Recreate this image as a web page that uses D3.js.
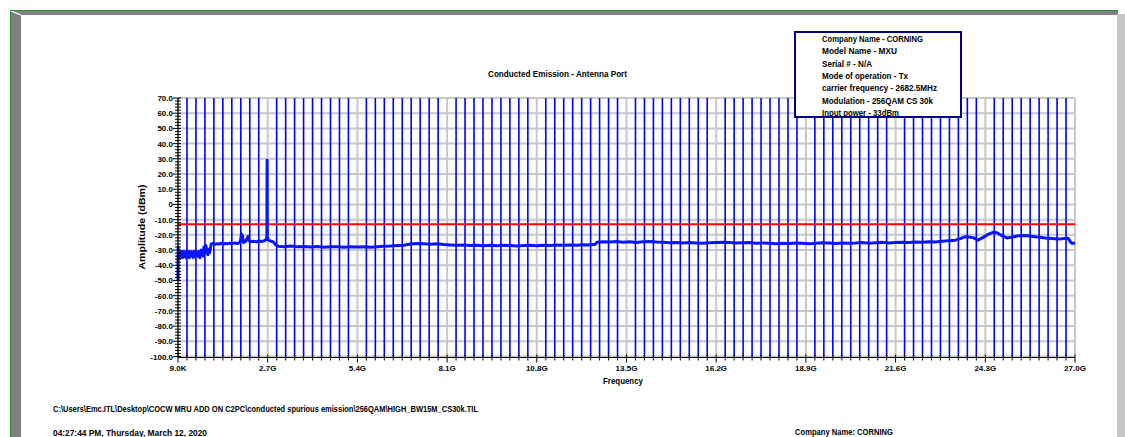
<!DOCTYPE html>
<html>
<head>
<meta charset="utf-8">
<script src="https://cdn.jsdelivr.net/npm/d3@7"></script>
<style>
  html, body { margin: 0; padding: 0; background: #ffffff; }
  svg { display: block; }
  text { font-family: "Liberation Sans", Arial, sans-serif; fill: #000; }
</style>
</head>
<body>
<svg id="chart" width="1125" height="437"></svg>
<script>
// ---- Data ----
const chartTitle = "Conducted Emission - Antenna Port";
const xTickValues = [0, 2.7, 5.4, 8.1, 10.8, 13.5, 16.2, 18.9, 21.6, 24.3, 27.0];   // GHz
const xTickLabels = ["9.0K", "2.7G", "5.4G", "8.1G", "10.8G", "13.5G", "16.2G", "18.9G", "21.6G", "24.3G", "27.0G"];
const yTickValues = [70, 60, 50, 40, 30, 20, 10, 0, -10, -20, -30, -40, -50, -60, -70, -80, -90, -100];
const yTickLabels = ["70.0", "60.0", "50.0", "40.0", "30.0", "20.0", "10.0", "0", "-10.0", "-20.0", "-30.0", "-40.0", "-50.0", "-60.0", "-70.0", "-80.0", "-90.0", "-100.0"];
const limitDbm = -13;
const infoLines = [
  "Company Name - CORNING",
  "Model Name - MXU",
  "Serial # - N/A",
  "Mode of operation - Tx",
  "carrier frequency - 2682.5MHz",
  "Modulation - 256QAM CS 30k",
  "Input power - 33dBm"
];
const filePath = "C:\\Users\\Emc.ITL\\Desktop\\COCW MRU ADD ON C2PC\\conducted spurious emission\\256QAM\\HIGH_BW15M_CS30k.TIL";
const timeStamp = "04:27:44 PM, Thursday, March 12, 2020";
const companyFooter = "Company Name: CORNING";

// measured trace: frequency (GHz) and level (dBm)
const traceFreqGHz = [
  0.000009, 0.005, 0.02, 0.04, 0.06, 0.08, 0.10, 0.12, 0.14, 0.16, 0.18, 0.20, 0.22, 0.24, 0.26, 0.28,
  0.30, 0.32, 0.34, 0.36, 0.38, 0.40, 0.42, 0.44, 0.46, 0.48, 0.50, 0.52, 0.54, 0.56, 0.58, 0.60,
  0.62, 0.64, 0.66, 0.68, 0.70, 0.72, 0.74, 0.76, 0.78, 0.80, 0.82, 0.84, 0.86, 0.88, 0.90, 0.92,
  0.94, 0.96, 1.00, 1.06, 1.12, 1.18, 1.24, 1.30, 1.36, 1.42, 1.48, 1.54, 1.60, 1.66, 1.72, 1.78,
  1.84, 1.88, 1.91, 1.94, 1.97, 2.02, 2.08, 2.11, 2.14, 2.20, 2.28, 2.36, 2.44, 2.52, 2.60, 2.66,
  2.675, 2.6825, 2.69, 2.72, 2.78, 2.86, 2.94, 3.02, 3.2, 3.4, 3.6, 3.8, 4.0, 4.2, 4.4, 4.6,
  4.8, 5.0, 5.2, 5.4, 5.6, 5.8, 6.0, 6.2, 6.4, 6.6, 6.8, 7.0, 7.2, 7.4, 7.6, 7.8,
  8.0, 8.2, 8.4, 8.6, 8.8, 9.0, 9.2, 9.4, 9.6, 9.8, 10.0, 10.2, 10.4, 10.6, 10.8, 11.0,
  11.2, 11.4, 11.6, 11.8, 12.0, 12.2, 12.4, 12.55, 12.62, 12.8, 13.0, 13.2, 13.4, 13.6, 13.8, 14.0,
  14.2, 14.4, 14.6, 14.8, 15.0, 15.2, 15.4, 15.6, 15.8, 16.0, 16.2, 16.4, 16.6, 16.8, 17.0, 17.2,
  17.4, 17.6, 17.8, 18.0, 18.2, 18.4, 18.6, 18.8, 19.0, 19.2, 19.4, 19.6, 19.8, 20.0, 20.2, 20.4,
  20.6, 20.8, 21.0, 21.2, 21.4, 21.6, 21.8, 22.0, 22.2, 22.4, 22.6, 22.8, 23.0, 23.2, 23.4, 23.55,
  23.7, 23.85, 23.95, 24.08, 24.25, 24.4, 24.55, 24.65, 24.8, 24.95, 25.1, 25.3, 25.5, 25.65, 25.8, 25.95,
  26.1, 26.3, 26.46, 26.6, 26.79, 26.86, 26.9, 27.0
];
const traceLevelDbm = [
  -50, -28, -34, -31, -35, -32, -34, -31, -35, -33, -31, -34, -32, -35, -31, -33,
  -34, -31, -35, -32, -33, -31, -34, -32, -35, -31, -33, -34, -31, -33, -32, -34,
  -31, -33, -35, -32, -30, -33, -31, -34, -28, -32, -30, -27, -32, -29, -33, -30,
  -32, -31, -26.0, -25.6, -26.2, -25.8, -26.0, -25.5, -26.1, -25.7, -25.9, -25.4, -26.0, -25.6, -25.3, -25.8,
  -25.2, -24.0, -19.5, -20.5, -25.0, -24.6, -22.5, -21.0, -24.0, -24.5, -24.2, -24.6, -24.0, -24.4, -23.8, -23.0,
  -20.0, 29.0, -21.0, -23.5, -24.0, -24.5, -26.5, -27.5, -27.8, -27.4, -27.9, -27.6, -28.0, -27.7, -28.1, -27.8,
  -27.9, -28.2, -27.8, -28.0, -27.9, -28.2, -27.8, -27.5, -27.3, -27.0, -26.8, -26.0, -25.7, -25.9, -26.1, -25.8,
  -26.3, -26.6, -26.9, -26.7, -27.0, -26.8, -27.1, -26.9, -27.2, -26.9, -27.0, -27.3, -27.0, -26.8, -27.1, -26.9,
  -27.0, -26.7, -26.9, -26.6, -26.8, -26.5, -26.7, -26.2, -24.8, -24.5, -24.7, -24.4, -24.8, -24.6, -25.0, -24.5,
  -24.3, -24.7, -24.9, -25.2, -25.0, -25.4, -25.1, -25.3, -25.6, -25.2, -25.0, -24.8, -25.1, -25.4, -25.2, -25.0,
  -25.5, -25.3, -25.6, -25.8, -25.5, -25.7, -25.4, -25.6, -25.9, -25.5, -25.2, -25.4, -25.7, -25.3, -25.6, -25.4,
  -25.1, -25.5, -25.2, -24.9, -25.3, -25.0, -24.8, -25.1, -24.7, -24.9, -24.5, -24.7, -24.2, -23.8, -23.5, -22.5,
  -21.2, -21.5, -22.0, -23.5, -21.5, -19.5, -18.2, -18.6, -20.5, -22.0, -21.5, -20.6, -20.4, -20.8, -21.3, -21.6,
  -22.0, -22.4, -22.8, -22.6, -22.2, -24.5, -25.5, -25.6
];

// ---- Layout ----
const svg = d3.select("#chart");
const plot = { left: 178, right: 1075, top: 98, bottom: 356.5 };

const x = d3.scaleLinear().domain([0, 27]).range([plot.left, plot.right]);
const y = d3.scaleLinear().domain([-100, 70]).range([plot.bottom, plot.top]);

// window frame: green outline, grey bevel bars
const frame = svg.append("g");
frame.append("polygon").attr("points", "11,11 1118,11 1118,15 21,15").attr("fill", "#808080");
frame.append("polygon").attr("points", "11,11 21,15 21,437 11,437").attr("fill", "#808080");
frame.append("line").attr("x1", 11).attr("y1", 11).attr("x2", 21).attr("y2", 15)
  .attr("stroke", "#ffffff").attr("stroke-width", 1.2);
frame.append("rect").attr("x", 1117).attr("y", 14).attr("width", 8).attr("height", 423).attr("fill", "#c6c6c6");
frame.append("line").attr("x1", 10).attr("y1", 10.5).attr("x2", 1118).attr("y2", 10.5)
  .attr("stroke", "#2b8a2b").attr("stroke-width", 1);
frame.append("line").attr("x1", 10.5).attr("y1", 10).attr("x2", 10.5).attr("y2", 437)
  .attr("stroke", "#2b8a2b").attr("stroke-width", 1);

// title
svg.append("text")
  .attr("x", 557.5).attr("y", 76.5)
  .attr("text-anchor", "middle")
  .attr("font-size", 9).attr("font-weight", "bold")
  .attr("textLength", 139).attr("lengthAdjust", "spacingAndGlyphs")
  .text(chartTitle);

// ---- Grid ----
const grid = svg.append("g");
const minorX = d3.range(0, 101).map(i => i * 0.27);
const majorIdx = new Set(d3.range(0, 11).map(i => i * 10));

grid.selectAll("line.hgrid").data(yTickValues).join("line")
  .attr("class", "hgrid")
  .attr("x1", plot.left).attr("x2", plot.right)
  .attr("y1", d => y(d)).attr("y2", d => y(d))
  .attr("stroke", "#c8c8c8").attr("stroke-width", 2);

grid.selectAll("line.vmajor").data(xTickValues).join("line")
  .attr("class", "vmajor")
  .attr("x1", d => x(d)).attr("x2", d => x(d))
  .attr("y1", plot.top).attr("y2", plot.bottom)
  .attr("stroke", "#c8c8c8").attr("stroke-width", 2);

grid.selectAll("line.vminor").data(minorX.filter((d, i) => !majorIdx.has(i))).join("line")
  .attr("class", "vminor")
  .attr("x1", d => x(d)).attr("x2", d => x(d))
  .attr("y1", plot.top).attr("y2", plot.bottom)
  .attr("stroke", "#0000ff").attr("stroke-width", 1.6);

// ---- Limit line ----
svg.append("line")
  .attr("x1", plot.left).attr("x2", plot.right)
  .attr("y1", y(limitDbm)).attr("y2", y(limitDbm))
  .attr("stroke", "#ff0000").attr("stroke-width", 2);

// ---- Trace ----
const traceData = traceFreqGHz.map((f, i) => [f, traceLevelDbm[i]]);
svg.append("path")
  .datum(traceData)
  .attr("fill", "none")
  .attr("stroke", "#0a14ff")
  .attr("stroke-width", 3)
  .attr("stroke-linejoin", "round")
  .attr("d", d3.line().x(d => x(d[0])).y(d => y(d[1])));

// ---- Axes ----
const axes = svg.append("g");
// y axis line and ticks
axes.append("line").attr("x1", plot.left).attr("x2", plot.left)
  .attr("y1", plot.top).attr("y2", plot.bottom + 1).attr("stroke", "#000").attr("stroke-width", 1.2);
axes.selectAll("line.ymin").data(d3.range(-100, 71, 2)).join("line")
  .attr("class", "ymin")
  .attr("x1", d => (d % 10 === 0 ? plot.left - 5 : plot.left - 3)).attr("x2", plot.left + 3)
  .attr("y1", d => y(d)).attr("y2", d => y(d))
  .attr("stroke", "#000").attr("stroke-width", 1);
axes.selectAll("text.ylab").data(yTickValues).join("text")
  .attr("class", "ylab")
  .attr("x", plot.left - 5).attr("y", d => y(d) + 3)
  .attr("text-anchor", "end")
  .attr("font-size", 8).attr("font-weight", "bold")
  .text((d, i) => yTickLabels[i]);

// x axis line and ticks
axes.append("line").attr("x1", plot.left).attr("x2", plot.right)
  .attr("y1", plot.bottom + 1).attr("y2", plot.bottom + 1).attr("stroke", "#000").attr("stroke-width", 1.2);
axes.selectAll("line.xmin").data(minorX).join("line")
  .attr("class", "xmin")
  .attr("x1", d => x(d)).attr("x2", d => x(d))
  .attr("y1", plot.bottom - 2)
  .attr("y2", (d, i) => (majorIdx.has(i) ? plot.bottom + 6 : plot.bottom + 4))
  .attr("stroke", "#000").attr("stroke-width", 1);
axes.selectAll("text.xlab").data(xTickValues).join("text")
  .attr("class", "xlab")
  .attr("x", d => x(d)).attr("y", plot.bottom + 14)
  .attr("text-anchor", "middle")
  .attr("font-size", 8).attr("font-weight", "bold")
  .text((d, i) => xTickLabels[i]);

// axis titles
svg.append("text")
  .attr("x", 623).attr("y", 383.5)
  .attr("text-anchor", "middle")
  .attr("font-size", 9).attr("font-weight", "bold")
  .attr("textLength", 40).attr("lengthAdjust", "spacingAndGlyphs")
  .text("Frequency");
svg.append("text")
  .attr("transform", "translate(145,227) rotate(-90)")
  .attr("text-anchor", "middle")
  .attr("font-size", 9).attr("font-weight", "bold")
  .attr("textLength", 85).attr("lengthAdjust", "spacingAndGlyphs")
  .text("Amplitude (dBm)");

// ---- Info box ----
const info = svg.append("g");
info.append("rect")
  .attr("x", 795).attr("y", 32).attr("width", 166).attr("height", 85)
  .attr("fill", "#ffffff").attr("stroke", "#000080").attr("stroke-width", 2);
const infoWidths = [101, 75, 50, 86, 115, 111, 77];
info.selectAll("text").data(infoLines).join("text")
  .attr("x", 822).attr("y", (d, i) => 42 + i * 12.35)
  .attr("font-size", 8.5).attr("font-weight", "bold")
  .attr("textLength", (d, i) => infoWidths[i]).attr("lengthAdjust", "spacingAndGlyphs")
  .text(d => d);

// ---- Footer ----
svg.append("text")
  .attr("x", 53).attr("y", 412)
  .attr("font-size", 8.5).attr("font-weight", "bold")
  .attr("textLength", 425).attr("lengthAdjust", "spacingAndGlyphs")
  .text(filePath);
svg.append("text")
  .attr("x", 53).attr("y", 435.5)
  .attr("font-size", 8.5).attr("font-weight", "bold")
  .attr("textLength", 154).attr("lengthAdjust", "spacingAndGlyphs")
  .text(timeStamp);
svg.append("text")
  .attr("x", 795).attr("y", 434.5)
  .attr("font-size", 8.5).attr("font-weight", "bold")
  .attr("textLength", 98).attr("lengthAdjust", "spacingAndGlyphs")
  .text(companyFooter);
</script>
</body>
</html>
